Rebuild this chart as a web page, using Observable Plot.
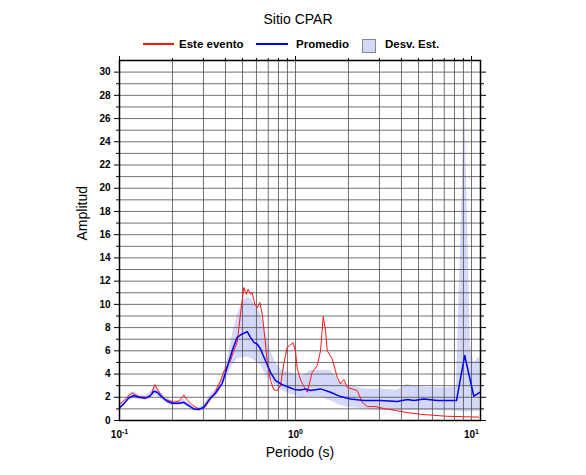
<!DOCTYPE html>
<html><head><meta charset="utf-8">
<script src="https://cdn.jsdelivr.net/npm/d3@7"></script>
<script src="https://cdn.jsdelivr.net/npm/@observablehq/plot@0.6"></script>
<style>
body{margin:0;background:#fff;font-family:"Liberation Sans",Arial,sans-serif;}
#wrap{position:relative;width:586px;height:475px;}
.t{position:absolute;white-space:nowrap;line-height:1;color:#000;}
.b{font-weight:bold;font-size:11.5px;}
</style></head><body>
<div id="wrap"></div>
<script>
// ---- Data ----
const eventPeriod = [0.100,0.1036,0.1106,0.1181,0.1233,0.1287,0.1405,0.1467,0.1520,0.1587,0.1637,0.1710,0.1785,0.1906,0.2035,0.2172,0.2271,0.2319,0.2425,0.2589,0.2764,0.2886,0.3082,0.3289,0.3512,0.3749,0.3914,0.4092,0.4272,0.4461,0.4664,0.4870,0.5085,0.5247,0.5386,0.5550,0.5675,0.5872,0.6058,0.6268,0.6470,0.6693,0.6906,0.7211,0.7529,0.7871,0.8218,0.8581,0.8970,0.9367,0.9678,1.000,1.0225,1.0676,1.1003,1.1656,1.2444,1.3286,1.3874,1.4374,1.4815,1.5147,1.6166,1.7259,1.8020,1.8815,1.9672,2.1002,2.2421,2.3936,2.5553,2.8480,3.2460,3.7000,4.4040,5.2480,6.1070,7.1170,8.8540,11.00];
const eventAmp = [1.45,1.57,2.0,2.38,2.2,2.06,2.0,1.95,2.29,3.09,2.72,2.29,1.86,1.72,1.57,1.66,2.0,2.2,1.78,1.35,1.06,1.0,1.2,1.86,2.5,3.4,4.2,4.7,5.15,6.0,6.73,9.16,11.45,10.88,11.3,10.88,11.0,10.0,9.7,10.16,9.16,7.16,5.15,3.44,2.64,2.58,3.0,4.9,6.3,6.5,6.73,6.0,4.5,3.5,3.1,2.43,4.15,4.72,6.0,8.96,7.73,6.0,5.3,3.72,3.15,3.52,2.86,2.72,2.58,1.57,1.2,1.2,1.0,0.86,0.66,0.52,0.45,0.37,0.33,0.29];

const meanPeriod = [0.100,0.1058,0.1129,0.1206,0.1287,0.1405,0.1500,0.1566,0.1637,0.1748,0.1866,0.1993,0.2172,0.2319,0.2476,0.2644,0.2823,0.3013,0.3289,0.3512,0.3833,0.4092,0.4368,0.4664,0.4980,0.5316,0.5550,0.5796,0.6058,0.6325,0.6752,0.7211,0.7698,0.8404,0.9160,1.000,1.0676,1.1397,1.2168,1.3874,1.5813,1.8020,2.0539,2.4441,3.0409,3.7830,4.3120,4.7020,5.3580,6.3860,8.2180,9.150,10.307,11.146];
const meanAmp = [1.1,1.43,1.95,2.15,2.0,1.92,2.15,2.52,2.43,2.0,1.66,1.49,1.49,1.57,1.29,1.0,0.95,1.14,1.95,2.35,3.2,4.58,6.0,7.16,7.45,7.65,7.16,6.73,6.59,6.16,5.15,4.15,3.44,3.09,2.86,2.64,2.62,2.72,2.58,2.72,2.43,2.06,1.86,1.72,1.72,1.63,1.8,1.72,1.86,1.72,1.72,5.6,2.09,2.43];

const bandPeriod = [0.100,0.1058,0.1129,0.1206,0.1287,0.1405,0.1500,0.1566,0.1637,0.1748,0.1866,0.1993,0.2172,0.2319,0.2476,0.2644,0.2823,0.3013,0.3289,0.3512,0.3833,0.4092,0.4368,0.4664,0.4980,0.5316,0.5550,0.5796,0.6058,0.6325,0.6752,0.7211,0.7698,0.8404,0.9160,1.000,1.0676,1.1397,1.2168,1.3874,1.5813,1.8020,2.0539,2.4441,3.0409,3.7830,4.3120,4.7020,5.3580,6.3860,8.2180,9.150,9.870,10.307,11.146];
const bandLow = [0.95,1.25,1.7,1.9,1.8,1.75,1.9,2.2,2.1,1.75,1.45,1.3,1.3,1.35,1.1,0.85,0.8,0.95,1.7,2.0,2.9,3.8,4.7,5.3,5.4,5.44,5.35,5.2,5.0,4.8,4.0,3.5,3.05,2.58,2.3,2.15,1.86,2.0,2.0,2.0,1.7,1.29,1.1,1.0,0.86,0.86,0.86,0.86,0.86,0.86,0.8,0.7,0.75,0.75,0.8];
const bandHigh = [1.3,1.65,2.25,2.5,2.2,2.1,2.45,2.85,2.8,2.3,1.9,1.7,1.7,1.8,1.5,1.15,1.1,1.35,2.2,2.7,3.8,5.2,7.3,9.0,10.2,10.6,10.5,10.1,9.6,9.1,7.6,6.0,5.0,4.3,4.15,4.0,3.72,4.0,4.3,4.3,4.3,3.29,3.0,2.72,2.72,2.6,3.15,2.95,2.86,2.81,2.85,27.8,6.3,5.0,5.5];

const yMajorTicks = [0,2,4,6,8,10,12,14,16,18,20,22,24,26,28,30];
const yMinorTicks = [1,3,5,7,9,11,13,15,17,19,21,23,25,27,29];
const xDecadeTicks = [0.1, 1, 10];
const xDecadeExponents = ["-1", "0", "1"];
const xMinorTicks = [0.2,0.3,0.4,0.5,0.6,0.7,0.8,0.9,2,3,4,5,6,7,8,9];
const xGrid = [0.1,0.2,0.3,0.4,0.5,0.6,0.7,0.8,0.9,1,2,3,4,5,6,7,8,9,10];
const yGrid = [1,2,3,4,5,6,7,8,9,10,11,12,13,14,15,16,17,18,19,20,21,22,23,24,25,26,27,28,29,30];

const title = "Sitio CPAR";
const seriesNames = ["Este evento", "Promedio", "Desv. Est."];
const xLabel = "Periodo (s)";
const yLabel = "Amplitud";

// ---- Tables ----
const eventData = eventPeriod.map((T, i) => ({T, A: eventAmp[i]}));
const meanData = meanPeriod.map((T, i) => ({T, A: meanAmp[i]}));
const bandData = bandPeriod.map((T, i) => ({T, lo: bandLow[i], hi: bandHigh[i]}));

const bandColor = "#d4d8f8";
const gridColor = "#4d4d4d";
const redColor = "#ff1414";
const blueColor = "#0000ff";
const none = () => "";

const chart = Plot.plot({
  width: 586, height: 475,
  marginLeft: 119, marginRight: 106, marginTop: 60, marginBottom: 55,
  style: {fontFamily: '"Liberation Sans", Arial, sans-serif', fontSize: "10px", background: "white", color: "black"},
  x: {type: "log", domain: [0.1, 11.25]},
  y: {domain: [0, 31]},
  marks: [
    Plot.areaY(bandData, {x: "T", y1: "lo", y2: "hi", fill: bandColor}),
    Plot.ruleX(xGrid, {stroke: gridColor, strokeWidth: 0.8}),
    Plot.ruleY(yGrid, {stroke: gridColor, strokeWidth: 0.8}),
    Plot.line(eventData, {x: "T", y: "A", stroke: redColor, strokeWidth: 1}),
    Plot.line(meanData, {x: "T", y: "A", stroke: blueColor, strokeWidth: 1.5}),
    Plot.frame({stroke: "black", strokeWidth: 1.5}),
    Plot.axisY(yMajorTicks, {anchor: "left", tickSize: 5, tickPadding: 4, fontWeight: "bold", label: null, tickFormat: d => String(d)}),
    Plot.axisY(yMinorTicks, {anchor: "left", tickSize: 3, tickFormat: none, label: null}),
    Plot.axisY(yMajorTicks, {anchor: "right", tickSize: 5, tickFormat: none, label: null}),
    Plot.axisY(yMinorTicks, {anchor: "right", tickSize: 3, tickFormat: none, label: null}),
    Plot.axisX(xDecadeTicks, {anchor: "bottom", tickSize: 0, tickPadding: 10, fontWeight: "bold", label: null,
      tickFormat: d => "10^" + xDecadeExponents[xDecadeTicks.indexOf(d)]}),
    Plot.axisX(xDecadeTicks, {anchor: "top", tickSize: 5, tickFormat: none, label: null}),
    Plot.axisX(xMinorTicks, {anchor: "top", tickSize: 3, tickFormat: none, label: null}),
    Plot.text([yLabel], {text: d => d, frameAnchor: "left", dx: -37, rotate: -90, fontSize: 14}),
    Plot.text([xLabel], {text: d => d, frameAnchor: "bottom", dy: 36, fontSize: 14})
  ]
});

// superscript exponents on the decade labels
chart.querySelectorAll("text").forEach(t => {
  const s = t.textContent;
  if (s.startsWith("10^")) {
    const e = s.slice(3);
    t.textContent = "10";
    const ts = document.createElementNS("http://www.w3.org/2000/svg", "tspan");
    ts.setAttribute("dy", "-4");
    ts.setAttribute("font-size", "7");
    ts.textContent = e;
    t.appendChild(ts);
  }
});

const wrap = document.getElementById("wrap");
wrap.appendChild(chart);
chart.style.position = "absolute";
chart.style.left = "0"; chart.style.top = "0";

// ---- title and legend ----
function add(html) { wrap.insertAdjacentHTML("beforeend", html); }
add(`<div class="t" style="left:298px;top:11.5px;font-size:14px;transform:translateX(-50%)">${title}</div>`);
add(`<div class="t" style="left:143px;top:43px;width:31px;height:1.5px;background:${redColor}"></div>`);
add(`<div class="t b" style="left:179px;top:38.6px">${seriesNames[0]}</div>`);
add(`<div class="t" style="left:256px;top:43px;width:32px;height:2px;background:${blueColor}"></div>`);
add(`<div class="t b" style="left:296px;top:38.6px">${seriesNames[1]}</div>`);
add(`<div class="t" style="left:362px;top:39px;width:12px;height:12px;background:${bandColor};border:0.8px solid #888"></div>`);
add(`<div class="t b" style="left:385px;top:38.6px">${seriesNames[2]}</div>`);
</script>
</body></html>
